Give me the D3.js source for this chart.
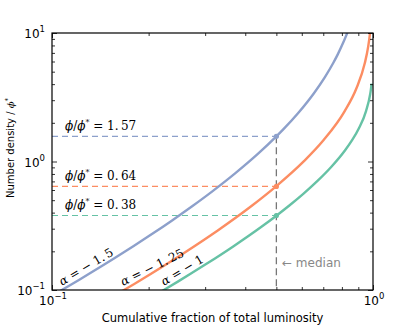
<!DOCTYPE html>
<html><head><meta charset="utf-8">
<script src="https://cdn.jsdelivr.net/npm/d3@7"></script>
<style>body{margin:0;background:#fff}svg{display:block}</style>
</head><body>
<svg id="c" width="415" height="332"></svg>
<script>
// ---- data ----
const blueFrac = [0.0943,0.1213,0.1573,0.1797,0.2059,0.2367,0.2733,0.3173,0.3711,0.4386,0.5,0.5271,0.5839,0.6547,0.7083,0.7518,0.7773,0.8065,0.8231,0.8625,0.8875];
const blueDens = [0.0826,0.1198,0.1782,0.2201,0.2748,0.3479,0.4482,0.5907,0.8043,1.150,1.568,1.793,2.375,3.402,4.537,5.843,6.852,8.347,9.419,13.03,16.65];
const orangeFrac = [0.1476,0.1847,0.2600,0.3284,0.4173,0.5,0.6106,0.7008,0.8146,0.8874,0.9426,0.9657,0.9796,0.9827,0.9861,0.9890];
const orangeDens = [0.0830,0.1156,0.1970,0.2909,0.4487,0.644,1.011,1.462,2.444,3.697,5.806,7.790,10.167,11.026,12.208,14.0];
const greenFrac = [0.2019,0.2231,0.2466,0.3012,0.3679,0.4493,0.5,0.5488,0.6065,0.6703,0.7408,0.8187,0.8607,0.9048,0.9512,0.9802,0.9851,0.9900];
const greenDens = [0.0863,0.1000,0.1162,0.1584,0.2194,0.3106,0.3787,0.4544,0.5598,0.7024,0.9057,1.2227,1.4645,1.8229,2.4679,3.3547,3.6374,4.0379];
const alphaLabels = ["\u2212 1.\u20095","\u2212 1.\u200925","\u2212 1"];
const medianFrac = 0.5;
const medianVals = [1.57, 0.64, 0.38];
const medianLabels = ["1.\u200957","0.\u200964","0.\u200938"];
const xMajor = [0.1, 1];
const xMajorExp = ["-1","0"];
const yMajor = [0.1, 1, 10];
const yMajorExp = ["-1","0","1"];
const xMinor = [0.2,0.3,0.4,0.5,0.6,0.7,0.8,0.9];
const yMinor = [0.2,0.3,0.4,0.5,0.6,0.7,0.8,0.9,2,3,4,5,6,7,8,9];
const colors = ["#8da0cb","#fc8d62","#66c2a5"];

const series = [
  {frac: blueFrac, dens: blueDens},
  {frac: orangeFrac, dens: orangeDens},
  {frac: greenFrac, dens: greenDens}
];

// ---- layout ----
const L = 52, R = 373, T = 33, B = 290;
const svg = d3.select("#c");
const x = d3.scaleLog().domain([0.1, 1]).range([L, R]);
const y = d3.scaleLog().domain([0.1, 10]).range([B, T]);

svg.append("defs").append("clipPath").attr("id","clip")
  .append("rect").attr("x",L).attr("y",T).attr("width",R-L).attr("height",B-T);
const plot = svg.append("g").attr("clip-path","url(#clip)");

// horizontal dashed lines
medianVals.forEach((v,i) => {
  plot.append("line")
    .attr("x1", x(0.1)).attr("x2", x(medianFrac))
    .attr("y1", y(v)).attr("y2", y(v))
    .attr("stroke", colors[i]).attr("stroke-width", 1.2)
    .attr("stroke-dasharray", "6,4");
});
// vertical dashed line
plot.append("line")
  .attr("x1", x(medianFrac)).attr("x2", x(medianFrac))
  .attr("y1", y(medianVals[0])).attr("y2", y(0.1))
  .attr("stroke", "#777").attr("stroke-width", 1.3)
  .attr("stroke-dasharray", "7,4");

// curves
const line = d3.line().curve(d3.curveMonotoneX);
series.forEach((s,i) => {
  const pts = s.frac.map((f,j) => [x(f), y(s.dens[j])]);
  plot.append("path").attr("d", line(pts))
    .attr("fill","none").attr("stroke", colors[i]).attr("stroke-width", 2.4);
});

// median markers
medianVals.forEach((v,i) => {
  plot.append("circle").attr("cx", x(medianFrac)).attr("cy", y(v)).attr("r", 2.6)
    .attr("fill", colors[i]);
});

// axes (inward ticks on all four sides)
function ticks(axisFn, scale, vals, size, tr) {
  const g = svg.append("g").attr("transform", tr)
    .call(axisFn(scale).tickValues(vals).tickSize(size).tickFormat(""));
  g.select(".domain").remove();
  g.selectAll(".tick line").attr("stroke","#000").attr("stroke-width",0.8);
}
ticks(d3.axisBottom, x, xMajor, -5, `translate(0,${B})`);
ticks(d3.axisBottom, x, xMinor, -3, `translate(0,${B})`);
ticks(d3.axisTop, x, xMajor, -5, `translate(0,${T})`);
ticks(d3.axisTop, x, xMinor, -3, `translate(0,${T})`);
ticks(d3.axisLeft, y, yMajor, -5, `translate(${L},0)`);
ticks(d3.axisLeft, y, yMinor, -3, `translate(${L},0)`);
ticks(d3.axisRight, y, yMajor, -5, `translate(${R},0)`);
ticks(d3.axisRight, y, yMinor, -3, `translate(${R},0)`);

svg.append("rect").attr("x",L).attr("y",T).attr("width",R-L).attr("height",B-T)
  .attr("fill","none").attr("stroke","#000").attr("stroke-width",1.2);

const sans = "'DejaVu Sans', sans-serif";
const serif = "'DejaVu Serif', serif";

// tick labels
function powLabel(px, py, exp, anchor) {
  const t = svg.append("text").attr("x", px).attr("y", py)
    .attr("font-family", sans).attr("font-size", 12).attr("fill","#000")
    .attr("text-anchor", anchor).attr("dominant-baseline","central");
  t.append("tspan").text("10");
  t.append("tspan").attr("dy", -5).attr("font-size", 8.5).text(exp.replace("-", "\u2212"));
}
xMajor.forEach((v,i) => powLabel(x(v)+1, B+11, xMajorExp[i], "middle"));
yMajor.forEach((v,i) => powLabel(L-7, y(v)+1, yMajorExp[i], "end"));

// axis titles
svg.append("text").attr("x", (L+R)/2).attr("y", 322)
  .attr("text-anchor","middle").attr("font-family", sans).attr("font-size", 11.5)
  .text("Cumulative fraction of total luminosity");
const yl = svg.append("text").attr("transform","translate(14,148) rotate(-90)")
  .attr("text-anchor","middle").attr("font-family", sans).attr("font-size", 10);
yl.append("tspan").text("Number density / ");
yl.append("tspan").attr("font-family", serif).attr("font-style","italic").text("\u03D5");
yl.append("tspan").attr("dy",-4).attr("font-size",7).text("*");

// annotation texts
medianVals.forEach((v,i) => {
  const t = svg.append("text").attr("x", 65).attr("y", y(v) - 6)
    .attr("font-family", serif).attr("font-size", 12).attr("fill","#000");
  t.append("tspan").attr("font-style","italic").text("\u03D5");
  t.append("tspan").text("/");
  t.append("tspan").attr("font-style","italic").text("\u03D5");
  t.append("tspan").attr("dy",-5).attr("font-size",8).text("*");
  t.append("tspan").attr("dy",5).text(" = " + medianLabels[i]);
});

// alpha labels
const alphaPos = [[62,286,-31],[123,286,-26],[164,286,-31]];
alphaLabels.forEach((lab,i) => {
  const p = alphaPos[i];
  svg.append("text").attr("transform", `translate(${p[0]},${p[1]}) rotate(${p[2]})`)
    .attr("font-family", serif).attr("font-size", 12)
    .html(`<tspan font-style="italic">\u03B1</tspan> = ${lab}`);
});

// median label
svg.append("text").attr("x", 282).attr("y", 267)
  .attr("font-family", sans).attr("font-size", 12).attr("fill", "#888")
  .text("\u2190 median");
</script>
</body></html>
